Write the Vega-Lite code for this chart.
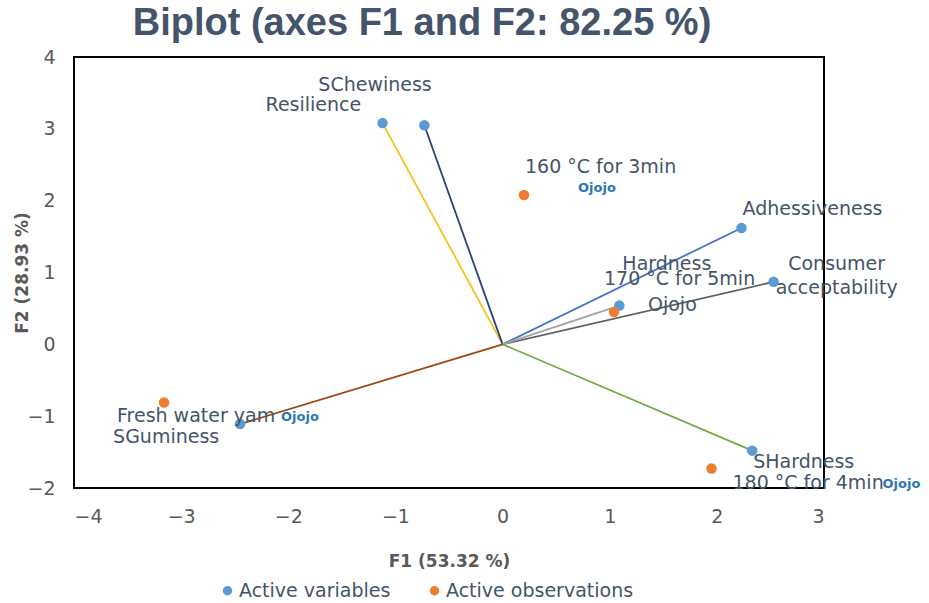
{
  "$schema": "https://vega.github.io/schema/vega-lite/v6.json",
  "width": 750,
  "height": 431,
  "autosize": {"type": "none"},
  "padding": {"left": 74, "top": 57, "right": 105, "bottom": 115},
  "background": "white",
  "title": {
    "text": "Biplot (axes F1 and F2: 82.25 %)",
    "font": "Liberation Sans",
    "fontSize": 38,
    "fontWeight": "bold",
    "color": "#44546a",
    "anchor": "middle",
    "dx": -27,
    "offset": 5
  },
  "config": {
    "view": {"stroke": "black", "strokeWidth": 2},
    "text": {"font": "DejaVu Sans", "fontSize": 19, "fill": "#44546a", "baseline": "middle", "align": "left"},
    "axis": {
      "grid": false, "domain": false, "ticks": false,
      "labelFont": "DejaVu Sans", "labelFontSize": 19, "labelColor": "#595959",
      "titleFont": "DejaVu Sans", "titleFontSize": 17, "titleFontWeight": "bold", "titleColor": "#595959"
    }
  },
  "data": {
    "values": [
      {"name": "Resilience", "F1": -1.12, "F2": 3.08, "type": "Active variables"},
      {"name": "SChewiness", "F1": -0.73, "F2": 3.05, "type": "Active variables"},
      {"name": "Adhessiveness", "F1": 2.23, "F2": 1.62, "type": "Active variables"},
      {"name": "Consumer acceptability", "F1": 2.53, "F2": 0.87, "type": "Active variables"},
      {"name": "Hardness", "F1": 1.09, "F2": 0.54, "type": "Active variables"},
      {"name": "SHardness", "F1": 2.33, "F2": -1.48, "type": "Active variables"},
      {"name": "SGuminess", "F1": -2.45, "F2": -1.11, "type": "Active variables"},
      {"name": "160 °C for 3min", "F1": 0.2, "F2": 2.08, "type": "Active observations"},
      {"name": "170 °C for 5min", "F1": 1.04, "F2": 0.45, "type": "Active observations"},
      {"name": "180 °C for 4min", "F1": 1.95, "F2": -1.73, "type": "Active observations"},
      {"name": "Fresh water yam", "F1": -3.16, "F2": -0.81, "type": "Active observations"}
    ]
  },
  "encoding": {
    "x": {"field": "F1", "type": "quantitative", "title": "F1 (53.32 %)",
      "scale": {"domain": [-4, 3], "nice": false, "zero": false},
      "axis": {"values": [-4, -3, -2, -1, 0, 1, 2, 3], "labelPadding": 19, "titlePadding": 27}},
    "y": {"field": "F2", "type": "quantitative", "title": "F2 (28.93 %)",
      "scale": {"domain": [-2, 4], "nice": false, "zero": false},
      "axis": {"values": [-2, -1, 0, 1, 2, 3, 4], "labelPadding": 19, "titlePadding": -5}}
  },
  "layer": [
    {"data": {"values": [{"z": 0}]}, "mark": {"type": "rule", "color": "#aeb2bd", "strokeWidth": 1.5}, "encoding": {"x": {"datum": 0}, "y": null}},
    {"data": {"values": [{"z": 0}]}, "mark": {"type": "rule", "color": "#aeb2bd", "strokeWidth": 1.5}, "encoding": {"y": {"datum": 0}, "x": null}},
    {
      "transform": [{"filter": "datum.type === 'Active variables'"}],
      "mark": {"type": "rule", "strokeWidth": 1.8},
      "encoding": {
        "x2": {"datum": 0},
        "y2": {"datum": 0},
        "stroke": {"field": "name", "type": "nominal", "legend": null,
          "scale": {"domain": ["Resilience", "SChewiness", "Adhessiveness", "Consumer acceptability", "Hardness", "SHardness", "SGuminess"],
            "range": ["#f5c21b", "#264478", "#4472c4", "#5f5f5f", "#a5a5a5", "#70ad47", "#9e480e"]}}
      }
    },
    {
      "mark": {"type": "circle", "size": 110, "opacity": 1},
      "encoding": {
        "color": {"field": "type", "type": "nominal", "title": null,
          "scale": {"domain": ["Active variables", "Active observations"], "range": ["#5b9bd5", "#ed7d31"]},
          "legend": {"orient": "none", "legendX": 144, "legendY": 524, "direction": "horizontal",
            "symbolType": "circle", "symbolSize": 90, "labelFont": "DejaVu Sans", "labelFontSize": 19,
            "labelColor": "#44546a", "labelOffset": 2, "labelLimit": 400, "columnPadding": 34, "padding": 0}}
      }
    },
    {"transform": [{"filter": "datum.name === 'Resilience'"}], "mark": {"type": "text", "dx": -117, "dy": -18}, "encoding": {"text": {"field": "name"}}},
    {"transform": [{"filter": "datum.name === 'SChewiness'"}], "mark": {"type": "text", "dx": -106, "dy": -40}, "encoding": {"text": {"field": "name"}}},
    {"transform": [{"filter": "datum.name === '160 °C for 3min'"}], "mark": {"type": "text", "dx": 1, "dy": -28}, "encoding": {"text": {"field": "name"}}},
    {"transform": [{"filter": "datum.name === '160 °C for 3min'"}], "mark": {"type": "text", "dx": 54, "dy": -7, "text": "Ojojo", "fontSize": 13, "fontWeight": "bold", "fill": "#2e75b6"}},
    {"transform": [{"filter": "datum.name === 'Adhessiveness'"}], "mark": {"type": "text", "dx": 1, "dy": -19}, "encoding": {"text": {"field": "name"}}},
    {"transform": [{"filter": "datum.name === 'Consumer acceptability'"}], "mark": {"type": "text", "align": "center", "dx": 63, "dy": -18, "lineHeight": 24, "text": ["Consumer", "acceptability"]}},
    {"transform": [{"filter": "datum.name === 'Hardness'"}], "mark": {"type": "text", "dx": 3, "dy": -42}, "encoding": {"text": {"field": "name"}}},
    {"transform": [{"filter": "datum.name === '170 °C for 5min'"}], "mark": {"type": "text", "dx": -10, "dy": -33}, "encoding": {"text": {"field": "name"}}},
    {"transform": [{"filter": "datum.name === '170 °C for 5min'"}], "mark": {"type": "text", "dx": 34, "dy": -7, "text": "Ojojo"}},
    {"transform": [{"filter": "datum.name === 'Fresh water yam'"}], "mark": {"type": "text", "dx": -47, "dy": 13}, "encoding": {"text": {"field": "name"}}},
    {"transform": [{"filter": "datum.name === 'Fresh water yam'"}], "mark": {"type": "text", "dx": 117, "dy": 14, "text": "Ojojo", "fontSize": 13, "fontWeight": "bold", "fill": "#2e75b6"}},
    {"transform": [{"filter": "datum.name === 'SGuminess'"}], "mark": {"type": "text", "dx": -127, "dy": 13}, "encoding": {"text": {"field": "name"}}},
    {"transform": [{"filter": "datum.name === 'SHardness'"}], "mark": {"type": "text", "dx": 1, "dy": 11}, "encoding": {"text": {"field": "name"}}},
    {"transform": [{"filter": "datum.name === '180 °C for 4min'"}], "mark": {"type": "text", "dx": 21, "dy": 14}, "encoding": {"text": {"field": "name"}}},
    {"transform": [{"filter": "datum.name === '180 °C for 4min'"}], "mark": {"type": "text", "dx": 171, "dy": 15, "text": "Ojojo", "fontSize": 13, "fontWeight": "bold", "fill": "#2e75b6"}}
  ]
}
